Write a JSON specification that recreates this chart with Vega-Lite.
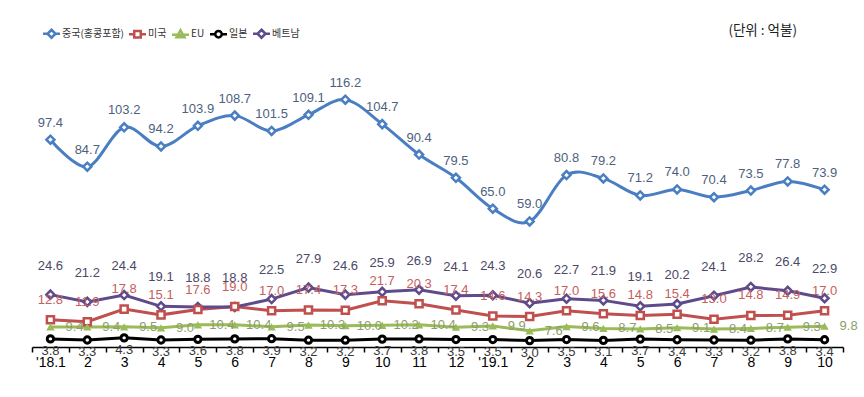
{
  "$schema": "https://vega.github.io/schema/vega-lite/v6.json",
  "width": 811,
  "height": 298,
  "autosize": {"type": "none"},
  "padding": {"left": 32, "top": 49, "right": 21, "bottom": 50},
  "background": "white",
  "title": {"text": "(단위 : 억불)", "anchor": "end", "frame": "group", "orient": "top", "offset": 12, "dx": -46, "dy": 22, "fontSize": 13.5, "font": "Noto Sans CJK KR", "fontWeight": "normal", "color": "#222222"},
  "config": {"view": {"stroke": null}, "font": "Liberation Sans"},
  "data": {"values": [
    {"m":"18.1","s":"중국(홍콩포함)","v":97.4},{"m":"18.2","s":"중국(홍콩포함)","v":84.7},{"m":"18.3","s":"중국(홍콩포함)","v":103.2},{"m":"18.4","s":"중국(홍콩포함)","v":94.2},{"m":"18.5","s":"중국(홍콩포함)","v":103.9},{"m":"18.6","s":"중국(홍콩포함)","v":108.7},{"m":"18.7","s":"중국(홍콩포함)","v":101.5},{"m":"18.8","s":"중국(홍콩포함)","v":109.1},{"m":"18.9","s":"중국(홍콩포함)","v":116.2},{"m":"18.10","s":"중국(홍콩포함)","v":104.7},{"m":"18.11","s":"중국(홍콩포함)","v":90.4},{"m":"18.12","s":"중국(홍콩포함)","v":79.5},{"m":"19.1","s":"중국(홍콩포함)","v":65.0},{"m":"19.2","s":"중국(홍콩포함)","v":59.0},{"m":"19.3","s":"중국(홍콩포함)","v":80.8},{"m":"19.4","s":"중국(홍콩포함)","v":79.2},{"m":"19.5","s":"중국(홍콩포함)","v":71.2},{"m":"19.6","s":"중국(홍콩포함)","v":74.0},{"m":"19.7","s":"중국(홍콩포함)","v":70.4},{"m":"19.8","s":"중국(홍콩포함)","v":73.5},{"m":"19.9","s":"중국(홍콩포함)","v":77.8},{"m":"19.10","s":"중국(홍콩포함)","v":73.9},
    {"m":"18.1","s":"미국","v":12.8},{"m":"18.2","s":"미국","v":11.9},{"m":"18.3","s":"미국","v":17.8},{"m":"18.4","s":"미국","v":15.1},{"m":"18.5","s":"미국","v":17.6},{"m":"18.6","s":"미국","v":19.0},{"m":"18.7","s":"미국","v":17.0},{"m":"18.8","s":"미국","v":17.4},{"m":"18.9","s":"미국","v":17.3},{"m":"18.10","s":"미국","v":21.7},{"m":"18.11","s":"미국","v":20.3},{"m":"18.12","s":"미국","v":17.4},{"m":"19.1","s":"미국","v":14.6},{"m":"19.2","s":"미국","v":14.3},{"m":"19.3","s":"미국","v":17.0},{"m":"19.4","s":"미국","v":15.6},{"m":"19.5","s":"미국","v":14.8},{"m":"19.6","s":"미국","v":15.4},{"m":"19.7","s":"미국","v":13.0},{"m":"19.8","s":"미국","v":14.8},{"m":"19.9","s":"미국","v":14.9},{"m":"19.10","s":"미국","v":17.0},
    {"m":"18.1","s":"EU","v":9.4},{"m":"18.2","s":"EU","v":9.4},{"m":"18.3","s":"EU","v":9.5},{"m":"18.4","s":"EU","v":9.0},{"m":"18.5","s":"EU","v":10.4},{"m":"18.6","s":"EU","v":10.4},{"m":"18.7","s":"EU","v":9.5},{"m":"18.8","s":"EU","v":10.3},{"m":"18.9","s":"EU","v":10.0},{"m":"18.10","s":"EU","v":10.2},{"m":"18.11","s":"EU","v":10.4},{"m":"18.12","s":"EU","v":9.3},{"m":"19.1","s":"EU","v":9.9},{"m":"19.2","s":"EU","v":7.6},{"m":"19.3","s":"EU","v":9.6},{"m":"19.4","s":"EU","v":8.7},{"m":"19.5","s":"EU","v":8.5},{"m":"19.6","s":"EU","v":9.1},{"m":"19.7","s":"EU","v":8.4},{"m":"19.8","s":"EU","v":8.7},{"m":"19.9","s":"EU","v":9.3},{"m":"19.10","s":"EU","v":9.8},
    {"m":"18.1","s":"일본","v":3.8},{"m":"18.2","s":"일본","v":3.3},{"m":"18.3","s":"일본","v":4.3},{"m":"18.4","s":"일본","v":3.3},{"m":"18.5","s":"일본","v":3.6},{"m":"18.6","s":"일본","v":3.8},{"m":"18.7","s":"일본","v":3.9},{"m":"18.8","s":"일본","v":3.2},{"m":"18.9","s":"일본","v":3.2},{"m":"18.10","s":"일본","v":3.7},{"m":"18.11","s":"일본","v":3.8},{"m":"18.12","s":"일본","v":3.5},{"m":"19.1","s":"일본","v":3.5},{"m":"19.2","s":"일본","v":3.0},{"m":"19.3","s":"일본","v":3.5},{"m":"19.4","s":"일본","v":3.1},{"m":"19.5","s":"일본","v":3.7},{"m":"19.6","s":"일본","v":3.4},{"m":"19.7","s":"일본","v":3.3},{"m":"19.8","s":"일본","v":3.2},{"m":"19.9","s":"일본","v":3.8},{"m":"19.10","s":"일본","v":3.4},
    {"m":"18.1","s":"베트남","v":24.6},{"m":"18.2","s":"베트남","v":21.2},{"m":"18.3","s":"베트남","v":24.4},{"m":"18.4","s":"베트남","v":19.1},{"m":"18.5","s":"베트남","v":18.8},{"m":"18.6","s":"베트남","v":18.8},{"m":"18.7","s":"베트남","v":22.5},{"m":"18.8","s":"베트남","v":27.9},{"m":"18.9","s":"베트남","v":24.6},{"m":"18.10","s":"베트남","v":25.9},{"m":"18.11","s":"베트남","v":26.9},{"m":"18.12","s":"베트남","v":24.1},{"m":"19.1","s":"베트남","v":24.3},{"m":"19.2","s":"베트남","v":20.6},{"m":"19.3","s":"베트남","v":22.7},{"m":"19.4","s":"베트남","v":21.9},{"m":"19.5","s":"베트남","v":19.1},{"m":"19.6","s":"베트남","v":20.2},{"m":"19.7","s":"베트남","v":24.1},{"m":"19.8","s":"베트남","v":28.2},{"m":"19.9","s":"베트남","v":26.4},{"m":"19.10","s":"베트남","v":22.9}
  ]},
  "encoding": {
    "x": {"field": "m", "type": "ordinal", "bandPosition": 0.5,
      "scale": {"type": "band", "domain": ["18.1","18.2","18.3","18.4","18.5","18.6","18.7","18.8","18.9","18.10","18.11","18.12","19.1","19.2","19.3","19.4","19.5","19.6","19.7","19.8","19.9","19.10"], "paddingInner": 0, "paddingOuter": 0},
      "axis": {"title": null, "labelAngle": 0, "domainColor": "#000000", "domainWidth": 1.5, "tickColor": "#000000", "tickWidth": 1.5, "tickSize": 5, "tickBand": "extent", "labelColor": "#000000", "labelFontSize": 14, "labelPadding": 3, "grid": false,
        "labelExpr": "datum.value == '18.1' ? \"'18.1\" : (datum.value == '19.1' ? \"'19.1\" : split(datum.value, '.')[1])"}},
    "y": {"field": "v", "type": "quantitative", "scale": {"domain": [0, 140], "nice": false, "zero": true}, "axis": null}
  },
  "layer": [
    {"transform": [{"filter": "datum.s == '중국(홍콩포함)'"}],
     "mark": {"type": "line", "interpolate": "cardinal", "strokeWidth": 3},
     "encoding": {"stroke": {"field": "s", "type": "nominal", "scale": {"domain": ["EU","미국","베트남","일본","중국(홍콩포함)"], "range": ["#9BBB59","#C0504D","#5F4B8B","#000000","#4A7EC2"]}, "legend": null}}},
    {"transform": [{"filter": "datum.s != '중국(홍콩포함)'"}],
     "mark": {"type": "line", "strokeWidth": 3},
     "encoding": {"stroke": {"field": "s", "type": "nominal", "legend": null}}},
    {"transform": [{"filter": "datum.s == '중국(홍콩포함)' || datum.s == '베트남'"}],
     "mark": {"type": "point", "shape": "diamond", "filled": false, "fill": "white", "size": 64, "strokeWidth": 2.5, "opacity": 1},
     "encoding": {"stroke": {"field": "s", "type": "nominal", "legend": null}}},
    {"transform": [{"filter": "datum.s == '미국'"}],
     "mark": {"type": "point", "shape": "square", "filled": false, "fill": "white", "size": 50, "strokeWidth": 2.5, "opacity": 1},
     "encoding": {"stroke": {"field": "s", "type": "nominal", "legend": null}}},
    {"transform": [{"filter": "datum.s == 'EU'"}],
     "mark": {"type": "point", "shape": "triangle-up", "filled": true, "size": 70, "opacity": 1},
     "encoding": {"fill": {"field": "s", "type": "nominal", "scale": {"domain": ["EU","미국","베트남","일본","중국(홍콩포함)"], "range": ["#9BBB59","#C0504D","#5F4B8B","#000000","#4A7EC2"]}, "legend": null}}},
    {"transform": [{"filter": "datum.s == '일본'"}],
     "mark": {"type": "point", "shape": "circle", "filled": false, "fill": "white", "size": 40, "strokeWidth": 3, "opacity": 1},
     "encoding": {"stroke": {"field": "s", "type": "nominal", "legend": null}}},
    {"mark": {"type": "point", "filled": false, "opacity": 0, "strokeWidth": 2.5},
     "encoding": {
       "color": {"field": "s", "type": "nominal",
         "scale": {"domain": ["중국(홍콩포함)","미국","EU","일본","베트남"], "range": ["#4A7EC2","#C0504D","#9BBB59","#000000","#5F4B8B"]},
         "legend": {"orient": "none", "legendX": 13, "legendY": -22, "direction": "horizontal", "title": null, "symbolSize": 100, "symbolStrokeWidth": 2.5, "symbolOpacity": 1, "labelFont": "Noto Sans CJK KR", "labelFontSize": 10, "labelColor": "#333333", "labelOffset": 4, "columnPadding": 0}},
       "shape": {"field": "s", "type": "nominal",
         "scale": {"domain": ["중국(홍콩포함)","미국","EU","일본","베트남"],
           "range": ["M-1.7,0H-0.8M0.8,0H1.7M0,-0.8L0.8,0L0,0.8L-0.8,0Z", "M-1.7,0H-0.65M0.65,0H1.7M-0.65,-0.65H0.65V0.65H-0.65Z", "M-1.7,0.1H1.7M0,-0.8L0.8,0.6H-0.8Z", "M-1.7,0H-0.65M0.65,0H1.7M0.65,0A0.65,0.65,0,1,1,-0.65,0A0.65,0.65,0,1,1,0.65,0Z", "M-1.7,0H-0.8M0.8,0H1.7M0,-0.8L0.8,0L0,0.8L-0.8,0Z"]},
         "legend": {"orient": "none", "legendX": 13, "legendY": -22, "direction": "horizontal", "title": null, "symbolSize": 100, "symbolStrokeWidth": 2.5, "symbolOpacity": 1, "labelFont": "Noto Sans CJK KR", "labelFontSize": 10, "labelColor": "#333333", "labelOffset": 4, "columnPadding": 0}}
     }},
    {"transform": [{"filter": "datum.s == '중국(홍콩포함)'"}],
     "mark": {"type": "text", "dy": -17, "fontSize": 13, "color": "#4E5F80"},
     "encoding": {"text": {"field": "v", "type": "quantitative", "format": ".1f"}}},
    {"transform": [{"filter": "datum.s == '미국'"}],
     "mark": {"type": "text", "dy": -20, "fontSize": 13, "color": "#C4605E"},
     "encoding": {"text": {"field": "v", "type": "quantitative", "format": ".1f"}}},
    {"transform": [{"filter": "datum.s == '베트남'"}],
     "mark": {"type": "text", "dy": -29, "fontSize": 13, "color": "#4C4868"},
     "encoding": {"text": {"field": "v", "type": "quantitative", "format": ".1f"}}},
    {"transform": [{"filter": "datum.s == 'EU'"}],
     "mark": {"type": "text", "dx": 24, "dy": 0, "fontSize": 13, "color": "#8C9E6A"},
     "encoding": {"text": {"field": "v", "type": "quantitative", "format": ".1f"}}},
    {"transform": [{"filter": "datum.s == '일본'"}],
     "mark": {"type": "text", "dy": 12, "fontSize": 13, "color": "#3A3A3A"},
     "encoding": {"text": {"field": "v", "type": "quantitative", "format": ".1f"}}}
  ]
}
